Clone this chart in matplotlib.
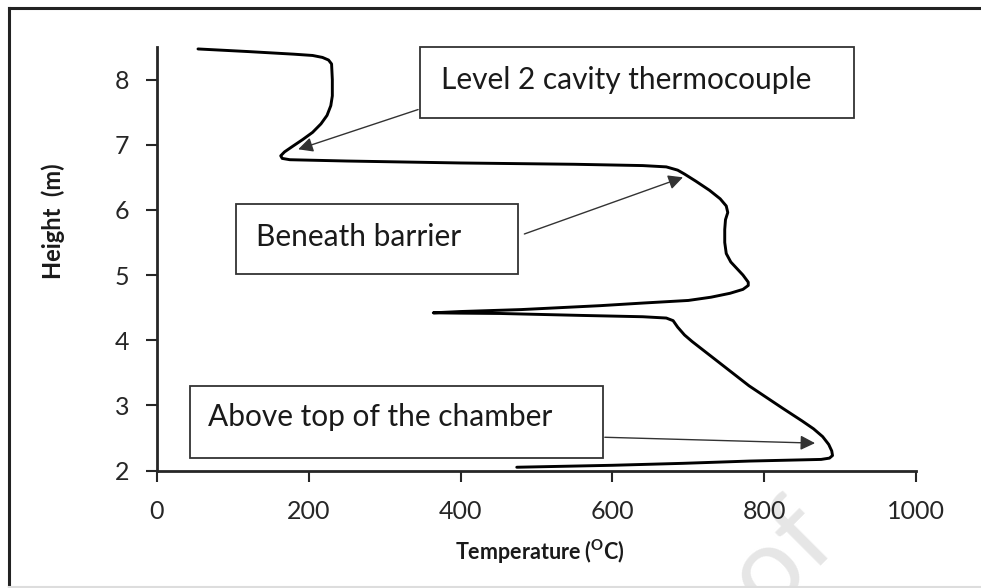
import matplotlib.pyplot as plt
from matplotlib.patches import Rectangle
from matplotlib.lines import Line2D

plt.rcParams['font.family'] = ['Lato', 'DejaVu Sans']
plt.rcParams['mathtext.fontset'] = 'custom'
plt.rcParams['mathtext.rm'] = 'Lato'
plt.rcParams['mathtext.bf'] = 'Lato:bold'

# Temperature profile along the height, read top to bottom
temperature = [54, 120, 180, 205, 218, 226, 230, 231, 231, 229, 224, 216, 205, 192,
               178, 168, 163, 165, 175, 250, 400, 550, 640, 671, 686, 695, 710, 728,
               742, 750, 752, 749, 748, 748, 750, 756, 764, 772, 779, 779, 772, 755,
               730, 700, 640, 584, 480, 400, 364, 400, 452, 560, 640, 671, 680, 686,
               695, 705, 737, 780, 825, 850, 865, 877, 885, 889, 890, 886, 875, 781,
               693, 600, 474]
height = [8.47, 8.43, 8.39, 8.37, 8.34, 8.30, 8.24, 8.00, 7.75, 7.60, 7.45, 7.32, 7.19, 7.08,
          6.97, 6.89, 6.83, 6.79, 6.77, 6.75, 6.72, 6.70, 6.68, 6.66, 6.61, 6.55, 6.44, 6.30,
          6.17, 6.06, 5.96, 5.85, 5.70, 5.50, 5.33, 5.20, 5.10, 5.00, 4.89, 4.84, 4.78, 4.72,
          4.66, 4.61, 4.57, 4.53, 4.47, 4.44, 4.42, 4.415, 4.41, 4.38, 4.36, 4.34, 4.30, 4.20,
          4.08, 3.98, 3.69, 3.30, 2.95, 2.76, 2.64, 2.52, 2.40, 2.30, 2.23, 2.19, 2.17, 2.145,
          2.11, 2.08, 2.05]

x_ticks = [0, 200, 400, 600, 800, 1000]
y_ticks = [2, 3, 4, 5, 6, 7, 8]

# callouts: text, box (x0, y0, x1, y1), text anchor, arrow tail, arrow head
callouts = [
    ('Level 2 cavity thermocouple', (347, 7.41, 918, 8.50), (374, 8.00), (344, 7.54), (186, 6.93)),
    ('Beneath barrier', (104, 5.01, 476, 6.09), (131, 5.59), (484, 5.63), (693, 6.50)),
    ('Above top of the chamber', (43, 2.19, 587, 3.29), (67, 2.82), (590, 2.51), (867, 2.42)),
]

W, H = 981, 588
fig = plt.figure(figsize=(W / 100, H / 100), dpi=100)
ax = fig.add_axes([157 / W, 1 - 470.5 / H, (916 - 157) / W, (470.5 - 47) / H])
ax.set_facecolor('none')

# faint watermark behind the chart
fig.text(838 / W, 1 - 538 / H, 'Proof', fontsize=80, color='#e6e6e6',
         rotation=45, rotation_mode='anchor', ha='right', va='baseline', zorder=-1)

# outer frame
fig.add_artist(Line2D([9 / W, 1.0], [1 - 8 / H] * 2, color='#222222', lw=2.2))
fig.add_artist(Line2D([9 / W] * 2, [1 - 8 / H, 0.0], color='#222222', lw=2.2))
fig.add_artist(Line2D([9 / W, 1.0], [1 - 587 / H] * 2, color='#dddddd', lw=1.5))

ax.plot(temperature, height, color='black', lw=2.1, solid_joinstyle='round',
        solid_capstyle='round', zorder=3)

for label, (x0, y0, x1, y1), (tx, ty), tail, head in callouts:
    ax.add_patch(Rectangle((x0, y0), x1 - x0, y1 - y0, facecolor='white',
                           edgecolor='#333333', lw=1.3, clip_on=False, zorder=4))
    ax.text(tx, ty, label, fontsize=21.5, color='#1a1a1a', ha='left', va='center', zorder=5)
    ax.annotate('', xy=head, xytext=tail, annotation_clip=False,
                arrowprops=dict(arrowstyle='-|>', color='#333333', lw=1.0,
                                mutation_scale=22, shrinkA=0, shrinkB=0), zorder=5)

ax.set_xlim(0, 1000)
ax.set_ylim(2, 8.5)
ax.set_xticks(x_ticks)
ax.set_yticks(y_ticks)
ax.tick_params(direction='out', length=8, width=1.5, color='#262626',
               labelsize=18, labelcolor='#262626')
ax.tick_params(axis='y', pad=12)
ax.tick_params(axis='x', pad=13)

ax.spines['right'].set_visible(False)
ax.spines['top'].set_visible(False)
for side in ['left', 'bottom']:
    ax.spines[side].set_color('#262626')
    ax.spines[side].set_linewidth(2)

fig.text(53 / W, 1 - 221 / H, 'Height  (m)', rotation=90, fontsize=17,
         fontweight='bold', color='#1a1a1a', ha='center', va='center')
fig.text(540 / W, 1 - 552 / H, r'Temperature ($^{\mathbf{O}}$C)', fontsize=15.5,
         fontweight='bold', color='#1a1a1a', ha='center', va='center')

fig.savefig('out.png', dpi=100)
